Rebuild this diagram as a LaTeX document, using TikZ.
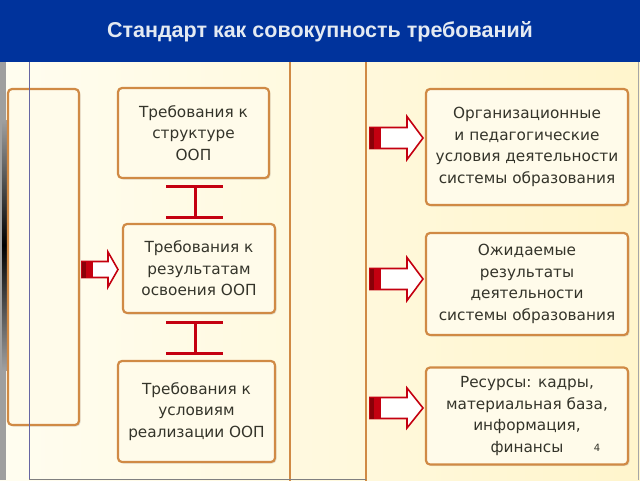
\documentclass[tikz,border=0pt]{standalone}
\usepackage{fontspec}
\setmainfont{DejaVu Sans}
\newfontfamily\titlefont{Liberation Sans}
\usetikzlibrary{shadows}
\definecolor{hdrblue}{HTML}{00339C}
\definecolor{titlecol}{HTML}{E4EAF2}
\definecolor{boxorange}{HTML}{D08A45}
\definecolor{boxfill}{HTML}{FFFBEA}
\definecolor{txt}{HTML}{34342A}
\definecolor{arrred}{HTML}{C40010}
\definecolor{arrdark}{HTML}{8A0008}
\definecolor{bgleft}{HTML}{FFFDF0}
\definecolor{bgright}{HTML}{FFF5CC}
\tikzset{
  box/.style={draw=boxorange, line width=2.2pt, rounded corners=4pt, fill=boxfill,
    align=center, text=txt, font=\fontsize{15.3}{21.5}\selectfont, inner sep=0pt,
    drop shadow={opacity=0.2, shadow xshift=1.5pt, shadow yshift=-1.5pt}},
  ibar/.style={draw=arrred, line width=3pt},
  frameline/.style={draw=boxorange, line width=2pt}
}
\newcommand\blockarrow[6]{%
  \filldraw[fill=white, draw=arrred, line width=1.6pt, line join=miter]
    (#1,#4-#5) -- (#2,#4-#5) -- (#2,#4-#6) -- (#3,#4) -- (#2,#4+#6) -- (#2,#4+#5) -- (#1,#4+#5) -- cycle;
  \fill[arrred] (#1,#4-#5) rectangle (#1+11,#4+#5);
  \fill[arrdark] (#1,#4-#5) rectangle (#1+4,#4+#5);
}
\begin{document}
\begin{tikzpicture}[x=1pt,y=-1pt]
\useasboundingbox (0,0) rectangle (640,480);
% background
\shade[left color=bgleft, right color=bgright] (0,0) rectangle (640,480);
% left dark edge
\fill[gray!75] (0,62) rectangle (6,480);
\shade[top color=gray!75, bottom color=gray!75, middle color=black] (2,120) rectangle (9,370);
% middle frame
\draw[frameline] (290,50) -- (290,482);
\draw[frameline] (366,50) -- (366,482);
% boxes
\node[box, minimum width=71pt, minimum height=336pt] (L) at (43.5,257) {};
\node[box, minimum width=151pt, minimum height=90pt] (s1) at (193.5,133) {Требования к\\структуре\\ООП};
\node[box, minimum width=152pt, minimum height=89pt] (s2) at (199,268.5) {Требования к\\результатам\\освоения ООП};
\node[box, minimum width=157pt, minimum height=101pt] (s3) at (196.5,411.5) {Требования к\\условиям\\реализации ООП};
\node[box, minimum width=202pt, minimum height=116pt] (r1) at (527,147) {Организационные\\и педагогические\\условия деятельности\\системы образования};
\node[box, minimum width=202pt, minimum height=102pt] (r2) at (527,284) {Ожидаемые\\результаты\\деятельности\\системы образования};
\node[box, minimum width=202pt, minimum height=97pt] (r3) at (527,416) {Ресурсы: кадры,\\материальная база,\\информация,\\финансы};
% thin lines
\draw[draw=black!60!blue!60, line width=0.8pt] (29,62) -- (29,480);
\draw[draw=gray, line width=0.8pt] (29,479) -- (366,479);
\draw[draw=gray!70, line width=0.8pt] (638.5,62) -- (638.5,480);
% I connectors
\coordinate (i1t) at (195,186);
\coordinate (i1b) at (195,217);
\coordinate (i2t) at (195,322);
\coordinate (i2b) at (195,353);
\draw[ibar] (i1t) -- (i1b);
\draw[ibar] ([xshift=-29pt]i1t) -- ([xshift=28pt]i1t);
\draw[ibar] ([xshift=-29pt]i1b) -- ([xshift=28pt]i1b);
\draw[ibar] (i2t) -- (i2b);
\draw[ibar] ([xshift=-29pt]i2t) -- ([xshift=28pt]i2t);
\draw[ibar] ([xshift=-29pt]i2b) -- ([xshift=28pt]i2b);
% block arrows
\blockarrow{370}{407}{423}{138}{10.5}{21.5}
\blockarrow{370}{407}{423}{279}{10.5}{21.5}
\blockarrow{370}{407}{423}{408}{10.5}{20}
\blockarrow{82}{108}{118}{269.5}{8}{17.5}
% header
\fill[hdrblue] (0,0) rectangle (640,62);
\node[font=\titlefont\bfseries\fontsize{21.5}{26}\selectfont, text=titlecol] (title) at (320,32) {Стандарт как совокупность требований};
\node[font=\fontsize{10}{12}\selectfont, text=txt] (pg) at (597,448) {4};
\end{tikzpicture}
\end{document}
